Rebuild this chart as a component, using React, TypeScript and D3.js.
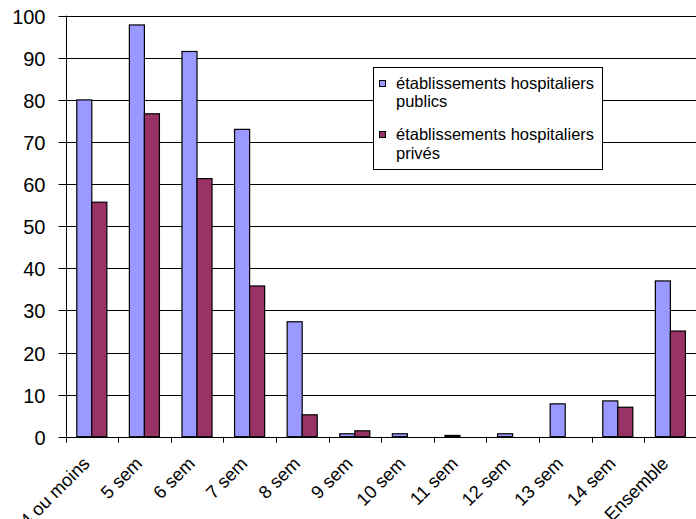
import React from "react";
import * as d3 from "d3";

const categories = ["4 ou moins", "5 sem", "6 sem", "7 sem", "8 sem", "9 sem", "10 sem", "11 sem", "12 sem", "13 sem", "14 sem", "Ensemble"];
const publics = [80, 97.8, 91.5, 73, 27.3, 0.7, 0.7, 0.3, 0.7, 7.8, 8.5, 37];
const prives = [55.7, 76.7, 61.3, 35.8, 5.2, 1.4, 0, 0, 0, 0, 7, 25.1];
const yTicks = [0, 10, 20, 30, 40, 50, 60, 70, 80, 90, 100];
const colors = ["#9999FF", "#993366"];

export default function App() {
  const W = 696, H = 519;
  const left = 65.5, top = 15.7, bottom = 436.7;
  const step = 52.6;
  const right = left + step * categories.length;
  const x = d3.scaleBand<string>().domain(categories).range([left, right]).paddingInner(0).paddingOuter(0);
  const y = d3.scaleLinear().domain([0, 100]).range([bottom, top]);
  const bw = x.bandwidth() / 3.5;
  const off = bw * 0.75;
  const font = "Liberation Sans, Arial, sans-serif";
  const px = (v: number) => Math.round(v) + 0.5;

  return (
    <svg width={W} height={H} style={{ position: "absolute", left: 0, top: 0, background: "#fff" }} fontFamily={font}>
      <rect x={0} y={0} width={W} height={H} fill="#fff" />
      {yTicks.map((t) => (
        <g key={t}>
          <line x1={left - 7} x2={W} y1={px(y(t))} y2={px(y(t))} stroke="#000" strokeWidth={1} />
          <text x={left - 20} y={y(t)} dy="0.4em" textAnchor="end" fontSize={20}>{t}</text>
        </g>
      ))}
      <line x1={px(left)} x2={px(left)} y1={top} y2={bottom} stroke="#000" />
      {categories.map((c, i) => (
        <g key={c}>
          <rect x={x(c)! + off} y={y(publics[i])} width={bw} height={Math.max(0, y(0) - y(publics[i]))} fill={colors[0]} stroke="#000" strokeWidth={1.2} />
          {prives[i] > 0 && (
            <rect x={x(c)! + off + bw} y={y(prives[i])} width={bw} height={y(0) - y(prives[i])} fill={colors[1]} stroke="#000" strokeWidth={1.2} />
          )}
          <line x1={px(x(c)!)} x2={px(x(c)!)} y1={bottom} y2={bottom + 6} stroke="#000" />
          <text
            transform={`translate(${x(c)! + x.bandwidth() / 2 - 1},${bottom + 28}) rotate(-45)`}
            textAnchor="end"
            fontSize={18.3}
          >
            {c}
          </text>
        </g>
      ))}
      <line x1={left} x2={W} y1={px(bottom)} y2={px(bottom)} stroke="#000" />
      <g>
        <rect x={373.5} y={67.5} width={229} height={102} fill="#fff" stroke="#000" />
        <rect x={379.5} y={80.5} width={6} height={6} fill={colors[0]} stroke="#000" />
        <text x={396} y={88.5} fontSize={16.5}>établissements hospitaliers</text>
        <text x={396} y={107} fontSize={16.5}>publics</text>
        <rect x={379.5} y={131.5} width={6} height={6} fill={colors[1]} stroke="#000" />
        <text x={396} y={140} fontSize={16.5}>établissements hospitaliers</text>
        <text x={396} y={158.5} fontSize={16.5}>privés</text>
      </g>
    </svg>
  );
}
